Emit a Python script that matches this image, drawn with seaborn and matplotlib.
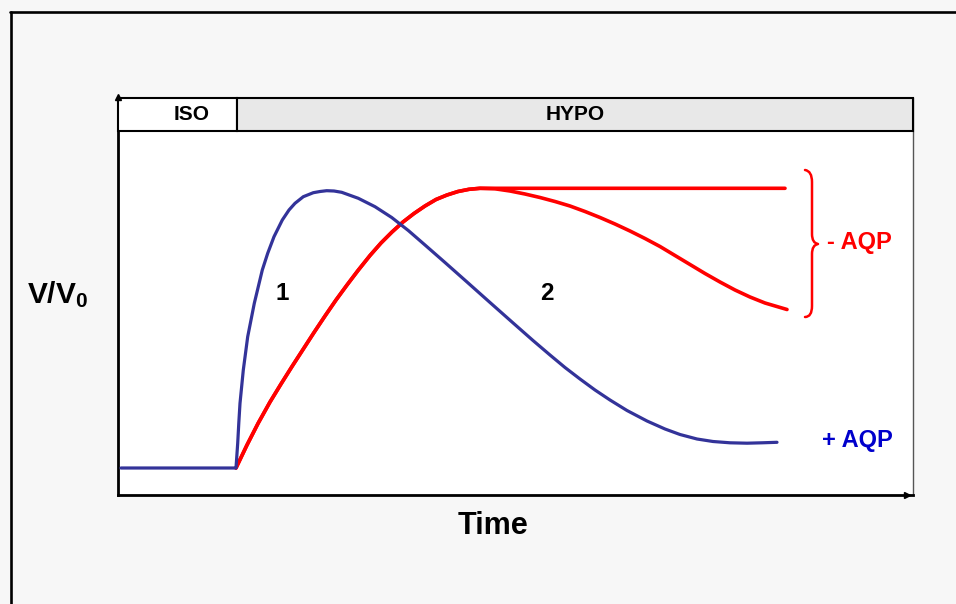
import matplotlib
matplotlib.use("Agg")
import matplotlib.pyplot as plt
import seaborn as sns
import pandas as pd
from matplotlib.transforms import Affine2D
from matplotlib.lines import Line2D
from matplotlib.patches import Rectangle, PathPatch
from matplotlib.path import Path

# ---------------- data (arbitrary units) ----------------
# time after the switch to hypotonic medium, relative volume change
blue_t = [-115, 0, 1.7, 2.8, 4, 7.3, 11.7, 18.3, 26.3, 31.7, 38, 46.3, 53, 59, 67.3,
          77.3, 84, 90.7, 98, 105.7, 122.3, 139, 155.7, 172.3, 189, 209, 231, 254,
          276, 297, 314, 329, 344, 359, 374, 391, 411, 429, 444, 461, 477, 494, 511,
          526, 541]
blue_v = [0, 0, 24.7, 45, 64.7, 98, 131.3, 164.7, 198, 214.7, 231.3, 248, 258, 264.7,
          271.3, 275.3, 276.5, 277.3, 277, 275.7, 269.7, 261.3, 250.5, 237.5, 223,
          205.5, 186, 165.5, 146, 127.5, 113, 100.5, 89, 78, 68, 57.5, 47, 39, 33.5,
          29, 26.5, 25.2, 24.8, 25.2, 25.7]

red_rise_t = [0, 11, 22, 34, 45, 56, 67, 78, 89, 100, 111, 122, 134, 145, 156, 167,
              178, 189, 200, 211, 222, 233, 244]
red_rise_v = [0, 23, 44.5, 66, 84, 101.5, 118.5, 135.5, 152, 168, 183, 197.5, 212.5,
              225, 236, 246, 254.5, 262, 268.5, 273, 276.5, 278.7, 279.7]
red_flat_t = [549]
red_flat_v = [279.7]
red_decay_t = [259, 274, 289, 304, 319, 334, 349, 364, 379, 394, 409, 424, 439, 454,
               469, 484, 499, 514, 529, 551]
red_decay_v = [279.2, 277, 274, 270.5, 266.5, 262, 256.5, 250.5, 244, 237, 229.5,
               221.5, 212.5, 203.5, 194.5, 186, 178, 171, 165, 158.5]

phase_labels = ["ISO", "HYPO"]
phase_switch = 1
x_range = (-118, 677)
y_range = (-27, 370)

# ---------------- style ----------------
sns.set_style("white")
plt.rcParams["font.family"] = ["Liberation Sans", "DejaVu Sans"]
plt.rcParams["text.color"] = "black"
plt.rcParams["mathtext.fontset"] = "custom"
plt.rcParams["mathtext.rm"] = "Liberation Sans:bold"
plt.rcParams["mathtext.it"] = "Liberation Sans:bold"
plt.rcParams["mathtext.bf"] = "Liberation Sans:bold"

BLUE = "#333399"
RED = "#ff0000"

fig = plt.figure(figsize=(9.56, 6.04), dpi=100, facecolor="#f7f7f7")
ax = fig.add_axes([118 / 956, 109 / 604, 795 / 956, 397 / 604])
ax.set_facecolor("white")

pix = Affine2D().scale(1 / 956, -1 / 604).translate(0, 1) + fig.transFigure

df_blue = pd.DataFrame({"t": blue_t, "V": blue_v})
df_red1 = pd.DataFrame({"t": red_rise_t + red_flat_t, "V": red_rise_v + red_flat_v})
df_red2 = pd.DataFrame({"t": red_rise_t + red_decay_t, "V": red_rise_v + red_decay_v})

sns.lineplot(data=df_red1, x="t", y="V", ax=ax, color=RED, linewidth=2.6,
             sort=False, estimator=None, legend=False)
sns.lineplot(data=df_red2, x="t", y="V", ax=ax, color=RED, linewidth=2.6,
             sort=False, estimator=None, legend=False)
sns.lineplot(data=df_blue, x="t", y="V", ax=ax, color=BLUE, linewidth=2.3,
             sort=False, estimator=None, legend=False, zorder=3)
for ln in ax.lines:
    ln.set_solid_joinstyle("round")
    ln.set_solid_capstyle("round")

ax.set_xlim(*x_range)
ax.set_ylim(*y_range)
ax.set_xticks([])
ax.set_yticks([])
ax.set_xlabel("")
ax.set_ylabel("")

for s in ["left", "bottom"]:
    ax.spines[s].set_color("black")
    ax.spines[s].set_linewidth(2.0)
ax.spines["right"].set_color("#555555")
ax.spines["right"].set_linewidth(1.0)
ax.spines["top"].set_visible(False)

# header bar
h = 33 / 397
iso_w = (phase_switch - x_range[0]) / (x_range[1] - x_range[0])
ax.add_patch(Rectangle((0, 1 - h), iso_w, h, transform=ax.transAxes,
                       facecolor="white", edgecolor="black", lw=1.5, clip_on=False, zorder=4))
ax.add_patch(Rectangle((iso_w, 1 - h), 1 - iso_w, h, transform=ax.transAxes,
                       facecolor="#e8e8e8", edgecolor="black", lw=1.5, clip_on=False, zorder=4))
ax.text(0.093, 1 - h / 2, phase_labels[0], transform=ax.transAxes,
        ha="center", va="center", fontsize=15, fontweight="bold", zorder=5)
ax.text((1 + iso_w) / 2, 1 - h / 2, phase_labels[1], transform=ax.transAxes,
        ha="center", va="center", fontsize=15, fontweight="bold", zorder=5)

# axis arrows
ax.plot([0], [1.003], marker="^", color="black", markersize=4.5, transform=ax.transAxes,
        clip_on=False, zorder=6)
ax.plot([0.993], [0], marker=">", color="black", markersize=5, transform=ax.transAxes,
        clip_on=False, zorder=6)

# outer frame
fig.add_artist(Line2D([10, 956], [11.5, 11.5], transform=pix, color="black", lw=1.9))
fig.add_artist(Line2D([11, 11], [11.5, 604], transform=pix, color="black", lw=1.9))

# labels
fig.text(27, 295, "V/V$_0$", transform=pix, ha="left", va="center",
         fontsize=21.5, fontweight="bold")
fig.text(493, 526, "Time", transform=pix, ha="center", va="center",
         fontsize=22, fontweight="bold")
fig.text(282, 293, "1", transform=pix, ha="center", va="center",
         fontsize=17.5, fontweight="bold")
fig.text(547, 293, "2", transform=pix, ha="center", va="center",
         fontsize=17.5, fontweight="bold")
fig.text(859, 243, "- AQP", transform=pix, ha="center", va="center",
         fontsize=17, fontweight="bold", color=RED)
fig.text(857, 441, "+ AQP", transform=pix, ha="center", va="center",
         fontsize=17, fontweight="bold", color="#0000cc")

# curly brace
verts = [(805, 170), (812, 171), (812, 182),
         (812, 234),
         (812, 243), (818, 244),
         (812, 245), (812, 254),
         (812, 306),
         (812, 317), (805, 317)]
codes = [Path.MOVETO, Path.CURVE3, Path.CURVE3,
         Path.LINETO,
         Path.CURVE3, Path.CURVE3,
         Path.CURVE3, Path.CURVE3,
         Path.LINETO,
         Path.CURVE3, Path.CURVE3]
fig.add_artist(PathPatch(Path(verts, codes), transform=pix, fill=False,
                         edgecolor=RED, lw=1.8, capstyle="round", joinstyle="round"))

fig.savefig("out.png", dpi=100, facecolor=fig.get_facecolor())
